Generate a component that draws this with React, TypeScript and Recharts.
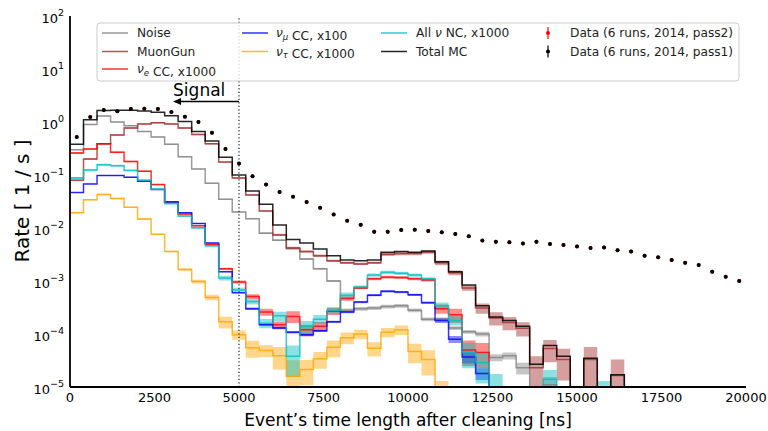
import React from 'react';
import { ComposedChart, Line, Area, Scatter, XAxis, YAxis, ReferenceLine } from 'recharts';

const FONT = '"DejaVu Sans", "Liberation Sans", sans-serif';

// ---- bins (lower edges, ns) ----
const binLow = [
  0, 400, 800, 1200, 1600, 2000, 2400, 2800, 3200, 3600,
  4000, 4400, 4800, 5200, 5600, 6000, 6400, 6800, 7200, 7600,
  8000, 8400, 8800, 9200, 9600, 10000, 10400, 10800, 11200, 11600,
  12000, 12400, 12800, 13200, 13600, 14000, 14400, 14800, 15200, 15600,
  16000, 16400, 16800, 17200, 17600, 18000, 18400, 18800, 19200, 19600,
];
const BIN_WIDTH = 400;

// ---- series values (Rate, 1/s) ----
const totalMC = [
  0.38, 1.1, 1.65, 1.66, 1.66, 1.62, 1.52, 1.31, 1.02, 0.66,
  0.44, 0.216, 0.1, 0.05, 0.028, 0.0114, 0.0061, 0.0052, 0.004, 0.003,
  0.0025, 0.0024, 0.0025, 0.0035, 0.0036, 0.0035, 0.0037, 0.0023, 0.0015, 0.00084,
  0.00034, 0.00021, 0.00018, 0.00014, 2.7e-5, 6.1e-5, 3.8e-5, 0, 3.5e-5, 0,
  1.7e-5, 0, 0, 0, 0, 0, 0, 0, 0, 0,
];
const muonGun = [
  0.08, 0.2, 0.39, 0.57, 0.77, 0.92, 0.97, 0.92, 0.77, 0.58,
  0.39, 0.175, 0.088, 0.042, 0.021, 0.0074, 0.0042, 0.0036, 0.003, 0.0024,
  0.0022, 0.0021, 0.0022, 0.0032, 0.0033, 0.0033, 0.0035, 0.0022, 0.00143, 0.00074,
  0.00031, 0.0002, 0.000164, 0.000128, 2.3e-5, 5.3e-5, 3.3e-5, 0, 3.3e-5, 0,
  1.65e-5, 0, 0, 0, 0, 0, 0, 0, 0, 0,
];
const noise = [
  0.3, 0.9, 1.3, 1.0, 0.85, 0.66, 0.52, 0.38, 0.22, 0.13,
  0.07, 0.035, 0.02, 0.015, 0.008, 0.0059, 0.0041, 0.0026, 0.0017, 0.001,
  0.00028, 0.0003, 0.00031, 0.00033, 0.00034, 0.00028, 0.00019, 0.00019, 0.00013, 0.00011,
  0.0001, 3.6e-5, 3.9e-5, 2.3e-5, 0, 1.1e-5, 0, 0, 0, 0,
  0, 0, 0, 0, 0, 0, 0, 0, 0, 0,
];
const nuE = [
  0.26, 0.31, 0.39, 0.27, 0.18, 0.118, 0.066, 0.031, 0.0183, 0.011,
  0.0049, 0.0017, 0.00096, 0.00051, 0.00026, 0.00015, 0.000215, 0.00012, 0.00014, 0.00027,
  0.00047, 0.00074, 0.0011, 0.00118, 0.00116, 0.0011, 0.00104, 0.0003, 0.00023, 5e-5,
  4.5e-5, 0, 0, 0, 0, 0, 0, 0, 0, 0,
  0, 0, 0, 0, 0, 0, 0, 0, 0, 0,
];
const nuMu = [
  0.047, 0.068, 0.098, 0.098, 0.091, 0.076, 0.053, 0.031, 0.0195, 0.0122,
  0.0052, 0.0015, 0.0006, 0.0003, 0.00015, 0.00013, 0.000108, 9.7e-5, 0.000115, 0.00017,
  0.00026, 0.0004, 0.00054, 0.00064, 0.00062, 0.00055, 0.00039, 0.00018, 8e-5, 3.7e-5,
  1.8e-5, 0, 0, 0, 0, 0, 0, 0, 0, 0,
  0, 0, 0, 0, 0, 0, 0, 0, 0, 0,
];
const nuTau = [
  0.0195, 0.034, 0.043, 0.036, 0.0245, 0.0148, 0.0076, 0.0036, 0.00165, 0.00098,
  0.00049, 0.00017, 9.7e-5, 5.5e-5, 4.9e-5, 3.9e-5, 1.6e-5, 2.15e-5, 3.4e-5, 5.6e-5,
  8.5e-5, 0.0001, 5.4e-5, 0.000108, 0.00012, 4.7e-5, 3.3e-5, 5e-6, 0, 0,
  0, 0, 0, 0, 0, 0, 0, 0, 0, 0,
  0, 0, 0, 0, 0, 0, 0, 0, 0, 0,
];
const nuNC = [
  0.088, 0.124, 0.156, 0.15, 0.122, 0.08, 0.054, 0.029, 0.0168, 0.0101,
  0.0046, 0.00114, 0.00068, 0.00041, 0.00016, 0.00022, 3.8e-5, 0.00014, 0.00019, 0.00028,
  0.00054, 0.00077, 0.0013, 0.00146, 0.0014, 0.0013, 0.0011, 0.00034, 0.00018, 4.5e-5,
  2.9e-5, 8e-6, 0, 0, 0, 1.4e-5, 0, 0, 0, 5e-6,
  0, 0, 0, 0, 0, 0, 0, 0, 0, 0,
];

// ---- relative uncertainties (shaded bands) ----
const errMuonGun = [
  0.03, 0.03, 0.03, 0.03, 0.03, 0.03, 0.03, 0.03, 0.03, 0.03,
  0.03, 0.03, 0.03, 0.03, 0.03, 0.05, 0.05, 0.05, 0.05, 0.05,
  0.05, 0.05, 0.05, 0.07, 0.07, 0.07, 0.07, 0.1, 0.1, 0.12,
  0.22, 0.28, 0.28, 0.3, 0.65, 0.45, 0.6, 0, 0.72, 0,
  1.0, 0, 0, 0, 0, 0, 0, 0, 0, 0,
];
const errNoise = [
  0.02, 0.02, 0.02, 0.02, 0.02, 0.02, 0.02, 0.02, 0.02, 0.02,
  0.02, 0.02, 0.02, 0.02, 0.04, 0.04, 0.04, 0.04, 0.04, 0.04,
  0.08, 0.08, 0.08, 0.08, 0.08, 0.08, 0.08, 0.08, 0.08, 0.08,
  0.1, 0.15, 0.15, 0.25, 0, 0.4, 0, 0, 0, 0,
  0, 0, 0, 0, 0, 0, 0, 0, 0, 0,
];
const errNuE = [
  0.03, 0.03, 0.03, 0.03, 0.03, 0.03, 0.03, 0.03, 0.03, 0.03,
  0.03, 0.05, 0.07, 0.1, 0.15, 0.15, 0.25, 0.25, 0.2, 0.15,
  0.1, 0.06, 0.06, 0.06, 0.06, 0.06, 0.06, 0.2, 0.3, 0.5,
  0.5, 0, 0, 0, 0, 0, 0, 0, 0, 0,
  0, 0, 0, 0, 0, 0, 0, 0, 0, 0,
];
const errNuMu = [
  0.02, 0.02, 0.02, 0.02, 0.02, 0.02, 0.02, 0.02, 0.02, 0.02,
  0.02, 0.02, 0.02, 0.05, 0.05, 0.05, 0.05, 0.05, 0.05, 0.05,
  0.05, 0.05, 0.05, 0.05, 0.05, 0.05, 0.05, 0.1, 0.15, 0.25,
  0.25, 0, 0, 0, 0, 0, 0, 0, 0, 0,
  0, 0, 0, 0, 0, 0, 0, 0, 0, 0,
];
const errNuTau = [
  0.03, 0.03, 0.03, 0.03, 0.03, 0.03, 0.03, 0.03, 0.05, 0.08,
  0.12, 0.25, 0.2, 0.35, 0.25, 0.45, 1.0, 0.5, 0.35, 0.35,
  0.25, 0.2, 0.3, 0.2, 0.2, 0.4, 0.5, 1.6, 0, 0,
  0, 0, 0, 0, 0, 0, 0, 0, 0, 0,
  0, 0, 0, 0, 0, 0, 0, 0, 0, 0,
];
const errNuNC = [
  0.04, 0.04, 0.04, 0.04, 0.04, 0.04, 0.04, 0.04, 0.04, 0.04,
  0.04, 0.1, 0.1, 0.12, 0.2, 0.2, 0.6, 0.25, 0.2, 0.15,
  0.12, 0.07, 0.07, 0.07, 0.07, 0.07, 0.07, 0.15, 0.2, 0.5,
  0.6, 1.2, 0, 0, 0, 0.5, 0, 0, 0, 1.6,
  0, 0, 0, 0, 0, 0, 0, 0, 0, 0,
];

// ---- data points (bin centres) ----
const dataPass1 = [
  0.52, 1.24, 1.68, 1.6, 1.76, 1.78, 1.76, 1.54, 1.26, 1.0,
  0.63, 0.31, 0.164, 0.095, 0.066, 0.048, 0.039, 0.031, 0.024, 0.018,
  0.0137, 0.0115, 0.0085, 0.0085, 0.0092, 0.0093, 0.0088, 0.0083, 0.0077, 0.007,
  0.0058, 0.0055, 0.0054, 0.0051, 0.0055, 0.005, 0.0048, 0.0045, 0.0042, 0.0043,
  0.0038, 0.0036, 0.003, 0.0028, 0.0025, 0.0022, 0.002, 0.0015, 0.0012, 0.001,
];
const dataPass2 = [
  0.52, 1.24, 1.68, 1.6, 1.76, 1.78, 1.76, 1.54, 1.26, 1.0,
  0.63, 0.31, 0.164, 0.095, 0.066, 0.048, 0.039, 0.031, 0.024, 0.018,
  0.0137, 0.0115, 0.0085, 0.0085, 0.0092, 0.0093, 0.0088, 0.0083, 0.0077, 0.007,
  0.0058, 0.0055, 0.0054, 0.0051, 0.0055, 0.005, 0.0048, 0.0045, 0.0042, 0.0043,
  0.0038, 0.0036, 0.003, 0.0028, 0.0025, 0.0022, 0.002, 0.0015, 0.0012, 0.001,
];

// ---- axes ----
const xTicks = [0, 2500, 5000, 7500, 10000, 12500, 15000, 17500, 20000];
const yMajorTicks = [1e-5, 1e-4, 1e-3, 1e-2, 1e-1, 1, 10, 100];
const yExponents = ['−5', '−4', '−3', '−2', '−1', '0', '1', '2'];
const yMinorTicks: number[] = [];
yMajorTicks.slice(0, -1).forEach((d) => {
  [2, 3, 4, 5, 6, 7, 8, 9].forEach((m) => yMinorTicks.push(m * d));
});
const Y_DOMAIN: [number, number] = [1e-5, 100];
const SIGNAL_CUT = 5000;

const FLOOR = 1e-9;
const lineVal = (v: number) => (v > 0 ? v : FLOOR);
const bandVal = (v: number, e: number) =>
  v > 0 && e > 0 ? [Math.max(v * (1 - e), FLOOR), v * (1 + e)] : null;

type S = { key: string; values: number[]; err?: number[]; color: string; op: number };
const SERIES: S[] = [
  { key: 'noise', values: noise, err: errNoise, color: '#808080', op: 0.8 },
  { key: 'muon', values: muonGun, err: errMuonGun, color: '#a52a2a', op: 0.8 },
  { key: 'nue', values: nuE, err: errNuE, color: '#ff0000', op: 0.8 },
  { key: 'numu', values: nuMu, err: errNuMu, color: '#0000ff', op: 0.8 },
  { key: 'nutau', values: nuTau, err: errNuTau, color: '#ffa500', op: 0.8 },
  { key: 'nc', values: nuNC, err: errNuNC, color: '#00bfbf', op: 0.8 },
  { key: 'total', values: totalMC, color: '#000000', op: 0.85 },
];

const rows = binLow.flatMap((lo, k) =>
  [lo, lo + BIN_WIDTH].map((x) => {
    const r: any = { x };
    SERIES.forEach((s) => {
      r[s.key] = lineVal(s.values[k]);
      if (s.err) r[s.key + 'Band'] = bandVal(s.values[k], s.err[k]);
    });
    return r;
  })
);
const dots1 = binLow.map((lo, k) => ({ x: lo + BIN_WIDTH / 2, y: dataPass1[k] }));
const dots2 = binLow.map((lo, k) => ({ x: lo + BIN_WIDTH / 2, y: dataPass2[k] }));

const YTick = (p: any) => {
  const i = yMajorTicks.findIndex((t) => Math.abs(Math.log10(t) - Math.log10(p.payload.value)) < 1e-6);
  return (
    <text x={p.x} y={p.y + 6.5} textAnchor="end" fontSize={13} fontFamily={FONT} fill="#000">
      <tspan>10</tspan>
      <tspan dy={-6.5} fontSize={9.5}>{yExponents[i]}</tspan>
    </text>
  );
};

const RedDot = (p: any) => <circle cx={p.cx} cy={p.cy} r={1.9} fill="#e00000" />;
const BlackDot = (p: any) => <circle cx={p.cx} cy={p.cy} r={2} fill="#000" />;

const SignalArrow = (p: any) => {
  const tipX = Math.min(p.x1, p.x2);
  const baseX = Math.max(p.x1, p.x2);
  const y = p.y1;
  return (
    <g>
      <line x1={baseX} y1={y} x2={tipX + 5} y2={y} stroke="#000" strokeWidth={1.5} />
      <polygon points={`${tipX},${y} ${tipX + 8},${y - 3.5} ${tipX + 8},${y + 3.5}`} fill="#000" />
      <text x={tipX} y={y - 5} fontSize={17} fontFamily={FONT} fill="#000">Signal</text>
    </g>
  );
};

const AXIS_LINE = { stroke: '#000', strokeWidth: 1.8 };
const TICK_LINE = { stroke: '#000', strokeWidth: 1.2 };

const Nu = ({ sub }: { sub?: string }) => (
  <>
    <tspan fontStyle="italic">ν</tspan>
    {sub ? (
      <>
        <tspan fontStyle="italic" fontSize={8.5} dy={2.5}>{sub}</tspan>
        <tspan dy={-2.5}></tspan>
      </>
    ) : null}
  </>
);

const LegendOverlay = () => {
  const rowsY = [33, 51.5, 69];
  const lineEntry = (x: number, y: number, color: string, op: number) => (
    <line x1={x} x2={x + 26} y1={y} y2={y} stroke={color} strokeOpacity={op} strokeWidth={1.5} />
  );
  const t = (x: number, y: number, children: React.ReactNode) => (
    <text x={x} y={y + 4.4} fontSize={12.2} fontFamily={FONT} fill="#222">{children}</text>
  );
  const marker = (x: number, y: number, color: string) => (
    <g>
      <line x1={x} x2={x} y1={y - 6} y2={y + 6} stroke={color} strokeWidth={1.2} />
      <circle cx={x} cy={y} r={2} fill={color} />
    </g>
  );
  return (
    <g>
      <rect x={97} y={23} width={642} height={58} rx={3} fill="#fff" fillOpacity={0.8} stroke="#cccccc" />
      {lineEntry(102, rowsY[0], '#808080', 0.8)}
      {t(137, rowsY[0], 'Noise')}
      {lineEntry(102, rowsY[1], '#a52a2a', 0.8)}
      {t(137, rowsY[1], 'MuonGun')}
      {lineEntry(102, rowsY[2], '#ff0000', 0.8)}
      {t(137, rowsY[2], <><Nu sub="e" /><tspan> CC, x1000</tspan></>)}
      {lineEntry(242, rowsY[0], '#0000ff', 0.8)}
      {t(276, rowsY[0], <><Nu sub="μ" /><tspan> CC, x100</tspan></>)}
      {lineEntry(242, rowsY[1], '#ffa500', 0.8)}
      {t(276, rowsY[1], <><Nu sub="τ" /><tspan> CC, x1000</tspan></>)}
      {lineEntry(381, rowsY[0], '#00bfbf', 0.8)}
      {t(416, rowsY[0], <><tspan>All </tspan><Nu /><tspan> NC, x1000</tspan></>)}
      {lineEntry(381, rowsY[1], '#000000', 0.85)}
      {t(416, rowsY[1], 'Total MC')}
      {marker(548, rowsY[0], '#ff0000')}
      {t(570, rowsY[0], 'Data (6 runs, 2014, pass2)')}
      {marker(548, rowsY[1], '#000000')}
      {t(570, rowsY[1], 'Data (6 runs, 2014, pass1)')}
    </g>
  );
};

export default function App() {
  return (
    <div style={{ position: 'absolute', left: 0, top: 0, width: 768, height: 431, background: '#fff' }}>
      <ComposedChart
        width={768}
        height={431}
        data={rows}
        margin={{ top: 16, right: 22, bottom: 14, left: 10 }}
      >
        <XAxis
          dataKey="x"
          type="number"
          domain={[0, 20000]}
          ticks={xTicks}
          interval={0}
          allowDataOverflow
          height={30}
          tickLine={false}
          tickSize={0}
          tickMargin={6}
          axisLine={AXIS_LINE}
          tick={{ fontSize: 13, fill: '#000', fontFamily: FONT }}
        />
        <XAxis
          xAxisId="bm"
          type="number"
          orientation="bottom"
          mirror
          domain={[0, 20000]}
          ticks={xTicks}
          interval={0}
          allowDataOverflow
          height={0}
          tickSize={6}
          tickLine={TICK_LINE}
          axisLine={false}
          tick={false}
        />
        <XAxis
          xAxisId="top"
          type="number"
          orientation="top"
          mirror
          domain={[0, 20000]}
          ticks={xTicks}
          interval={0}
          allowDataOverflow
          height={0}
          tickSize={6}
          tickLine={TICK_LINE}
          axisLine={AXIS_LINE}
          tick={false}
        />
        <YAxis
          type="number"
          scale="log"
          domain={Y_DOMAIN}
          ticks={yMajorTicks}
          interval={0}
          allowDataOverflow
          width={60}
          tickLine={false}
          tickSize={0}
          tickMargin={6}
          axisLine={AXIS_LINE}
          tick={<YTick />}
        />
        <YAxis
          yAxisId="lmaj"
          type="number"
          scale="log"
          mirror
          domain={Y_DOMAIN}
          ticks={yMajorTicks}
          interval={0}
          allowDataOverflow
          width={0}
          tickSize={7}
          tickLine={TICK_LINE}
          axisLine={false}
          tick={false}
        />
        <YAxis
          yAxisId="lmin"
          type="number"
          scale="log"
          mirror
          domain={Y_DOMAIN}
          ticks={yMinorTicks}
          interval={0}
          allowDataOverflow
          width={0}
          tickSize={3.5}
          tickLine={TICK_LINE}
          axisLine={false}
          tick={false}
        />
        <YAxis
          yAxisId="rmaj"
          type="number"
          scale="log"
          orientation="right"
          mirror
          domain={Y_DOMAIN}
          ticks={yMajorTicks}
          interval={0}
          allowDataOverflow
          width={0}
          tickSize={7}
          tickLine={TICK_LINE}
          axisLine={AXIS_LINE}
          tick={false}
        />
        <YAxis
          yAxisId="rmin"
          type="number"
          scale="log"
          orientation="right"
          mirror
          domain={Y_DOMAIN}
          ticks={yMinorTicks}
          interval={0}
          allowDataOverflow
          width={0}
          tickSize={3.5}
          tickLine={TICK_LINE}
          axisLine={false}
          tick={false}
        />

        {SERIES.filter((s) => s.err).map((s) => (
          <Area
            key={s.key + 'Band'}
            dataKey={s.key + 'Band'}
            type="linear"
            stroke="none"
            fill={s.color}
            fillOpacity={0.45}
            dot={false}
            activeDot={false}
            isAnimationActive={false}
          />
        ))}
        {SERIES.map((s) => (
          <Line
            key={s.key}
            dataKey={s.key}
            type="linear"
            stroke={s.color}
            strokeOpacity={s.op}
            strokeWidth={1.5}
            dot={false}
            activeDot={false}
            isAnimationActive={false}
          />
        ))}

        <ReferenceLine x={SIGNAL_CUT} stroke="#333" strokeWidth={1.3} strokeDasharray="1.3 2.2" />
        <ReferenceLine
          segment={[{ x: SIGNAL_CUT, y: 2.44 }, { x: 3050, y: 2.44 }]}
          shape={SignalArrow}
        />

        <Scatter data={dots2} dataKey="y" shape={RedDot} isAnimationActive={false} />
        <Scatter data={dots1} dataKey="y" shape={BlackDot} isAnimationActive={false} />
      </ComposedChart>

      <svg
        width={768}
        height={431}
        style={{ position: 'absolute', left: 0, top: 0, pointerEvents: 'none' }}
      >
        <LegendOverlay />
        <text x={408} y={426} textAnchor="middle" fontSize={17} fontFamily={FONT} fill="#000">
          Event’s time length after cleaning [ns]
        </text>
        <text
          transform="translate(29,201) rotate(-90)"
          textAnchor="middle"
          fontSize={20}
          fontFamily={FONT}
          fill="#000"
        >
          Rate [ 1 / s ]
        </text>
      </svg>
    </div>
  );
}
